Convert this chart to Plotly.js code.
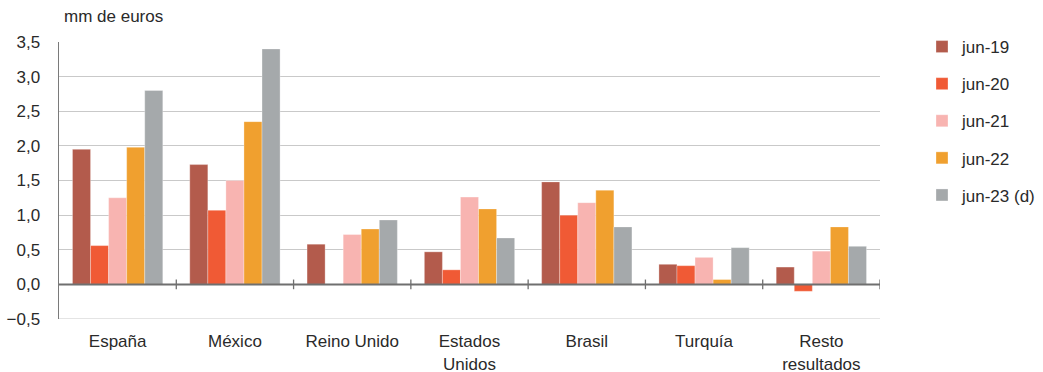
<!DOCTYPE html>
<html>
<head>
<meta charset="utf-8">
<script src="https://cdn.plot.ly/plotly-3.0.1.min.js"></script>
<style>
  html, body { margin: 0; padding: 0; background: #fff; }
  #chart { width: 1043px; height: 372px; }
</style>
</head>
<body>
<div id="chart"></div>
<script>
// Categories (countries) and tick labels
const categories = ['España', 'México', 'Reino Unido', 'Estados Unidos', 'Brasil', 'Turquía', 'Resto resultados'];
const tickLabels = ['España', 'México', 'Reino Unido', 'Estados<br>Unidos', 'Brasil', 'Turquía', 'Resto<br>resultados'];

// Series names
const seriesNames = ['jun-19', 'jun-20', 'jun-21', 'jun-22', 'jun-23 (d)'];

// Values, mm de euros
const jun19 = [1.95, 1.73, 0.58, 0.47, 1.48, 0.29, 0.25];
const jun20 = [0.56, 1.07, 0.00, 0.21, 1.00, 0.27, -0.10];
const jun21 = [1.25, 1.50, 0.72, 1.26, 1.18, 0.39, 0.48];
const jun22 = [1.98, 2.35, 0.80, 1.09, 1.36, 0.07, 0.83];
const jun23 = [2.80, 3.40, 0.93, 0.67, 0.83, 0.53, 0.55];

const seriesValues = [jun19, jun20, jun21, jun22, jun23];
const seriesColors = ['#B35B4C', '#F05A35', '#F8B4B1', '#F0A02F', '#A5A9AB'];

const traces = seriesValues.map((vals, i) => ({
  type: 'bar',
  name: seriesNames[i],
  x: categories,
  y: vals,
  legendgroup: 'g' + i,
  marker: { color: seriesColors[i], line: { color: 'rgba(255,255,255,0.6)', width: 0.5 } },
  hoverinfo: 'skip'
}));

// Bottom grid line at -0.5
const shapes = [{
  type: 'line', xref: 'paper', yref: 'y',
  x0: 0, x1: 1, y0: -0.5, y1: -0.5,
  line: { color: '#c9c9c9', width: 1 }
}];
// Small separators on the zero line between country groups
for (let k = 0; k < categories.length; k++) {
  shapes.push({
    type: 'line', xref: 'x', yref: 'y',
    x0: k + 0.5, x1: k + 0.5, y0: -0.07, y1: 0.07,
    line: { color: '#6f6f6f', width: 1.3 }
  });
}
// Zero line
shapes.push({
  type: 'line', xref: 'paper', yref: 'y',
  x0: 0, x1: 1, y0: 0, y1: 0,
  line: { color: '#6f6f6f', width: 2 }
});

const layout = {
  width: 1043,
  height: 372,
  margin: { l: 59, r: 163, t: 42, b: 53 },
  paper_bgcolor: '#ffffff',
  plot_bgcolor: '#ffffff',
  separators: ',.',
  font: { family: 'Liberation Sans, Arial, sans-serif', size: 17, color: '#2a2a2a' },
  barmode: 'group',
  bargap: 0.23,
  bargroupgap: 0,
  showlegend: true,
  legend: {
    xref: 'container', yref: 'container',
    x: 0.884, y: 0.922, xanchor: 'left', yanchor: 'top',
    font: { size: 17, color: '#2a2a2a' },
    tracegroupgap: 12,
    itemclick: false
  },
  xaxis: {
    type: 'category',
    range: [-0.5, 6.5],
    tickvals: categories,
    ticktext: tickLabels,
    ticks: 'outside',
    ticklen: 7,
    tickcolor: 'rgba(0,0,0,0)',
    showline: false,
    showgrid: false,
    zeroline: false,
    tickfont: { size: 17, color: '#2a2a2a' }
  },
  yaxis: {
    range: [-0.5, 3.5],
    dtick: 0.5,
    tick0: 0,
    tickformat: '.1f',
    showgrid: true,
    gridcolor: '#c9c9c9',
    gridwidth: 1,
    zeroline: false,
    showline: true,
    linecolor: '#7a7a7a',
    linewidth: 1.5,
    ticks: '',
    ticklabelstandoff: 14,
    tickfont: { size: 17, color: '#2a2a2a' }
  },
  shapes: shapes,
  annotations: [{
    text: 'mm de euros',
    xref: 'paper', yref: 'paper',
    x: 0.004, y: 1.05,
    xanchor: 'left', yanchor: 'bottom',
    showarrow: false,
    font: { size: 17, color: '#2a2a2a' }
  }]
};

Plotly.newPlot('chart', traces, layout, { displayModeBar: false, staticPlot: true });
</script>
</body>
</html>
